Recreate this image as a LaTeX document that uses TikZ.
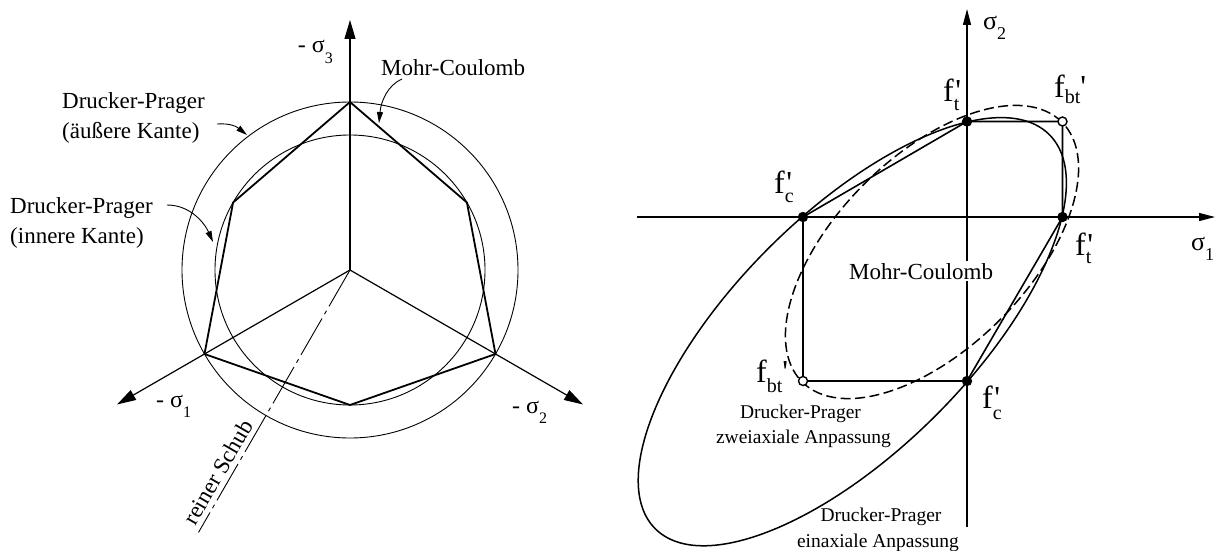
\documentclass[tikz,border=0pt]{standalone}
\usepackage{fontspec}
\newfontfamily\tnr{Liberation Serif}
\usetikzlibrary{arrows.meta}
\newcommand\subtxt[3]{\raisebox{#1}{\fontsize{#2}{#2}\selectfont #3}}
\tikzset{
 thincirc/.style={line width=0.9pt},
 mcline/.style={line width=1.8pt, line join=miter},
 axisL/.style={line width=1.2pt, -{Triangle[length=19pt,width=11pt]}},
 shear/.style={line width=0.9pt, dash pattern=on 42pt off 5pt on 4pt off 5pt},
 callout/.style={line width=0.9pt, -{Triangle[length=11pt,width=6pt]}},
 labL/.style={font=\tnr\fontsize{23}{28}\selectfont, inner sep=0pt},
 sigL/.style={font=\tnr\fontsize{24}{28}\selectfont, inner sep=0pt},
 axisR/.style={line width=1.2pt, -{Triangle[length=16pt,width=8pt]}},
 mcR/.style={line width=1.6pt},
 dpsolid/.style={line width=1.5pt},
 dpdash/.style={line width=1.5pt, dash pattern=on 10pt off 4.5pt},
 odot/.style={line width=1.4pt, fill=white},
 flab/.style={font=\tnr\fontsize{32}{32}\selectfont, inner sep=0pt},
 sigR/.style={font=\tnr\fontsize{26}{26}\selectfont, inner sep=0pt},
 labR/.style={font=\tnr\fontsize{19.5}{24}\selectfont, inner sep=0pt},
 mcRlab/.style={font=\tnr\fontsize{23}{28}\selectfont, inner sep=2pt, fill=white},
}
\begin{document}
\begin{tikzpicture}[x=1pt,y=-1pt]
\useasboundingbox[fill=white] (0,0) rectangle (1216,551);
% ---------------- left diagram ----------------
\coordinate (O) at (350,270);
\draw[thincirc] (O) circle[radius=168pt];
\draw[thincirc] (O) circle[radius=135pt];
\coordinate (V1) at (350,102);
\coordinate (V2) at (466.9,202.5);
\coordinate (V3) at (495.5,354);
\coordinate (V4) at (350,405);
\coordinate (V5) at (204.5,354);
\coordinate (V6) at (233.1,202.5);
\draw[mcline] (V1) -- (V2) -- (V3) -- (V4) -- (V5) -- (V6) -- cycle;
\coordinate (A3) at (350,20);
\coordinate (A1) at (117,404.5);
\coordinate (A2) at (583,404.5);
\draw[axisL] (O) -- (A3);
\draw[axisL] (O) -- (A1);
\draw[axisL] (O) -- (A2);
\coordinate (S) at (198.5,532.4);
\draw[shear] (O) -- (S);
\node[labL, anchor=base, rotate=60] (rs) at (225,476) {reiner Schub};
\node[sigL, anchor=base east] (s3) at (333,53) {- σ\subtxt{-10pt}{16}{3}};
\node[sigL, anchor=base west] (s1) at (156,407) {- σ\subtxt{-10pt}{16}{1}};
\node[sigL, anchor=base west] (s2) at (512,413) {- σ\subtxt{-10pt}{16}{2}};
\node[labL, anchor=base west] (mcl) at (381,75) {Mohr-Coulomb};
\node[labL, anchor=base west] (dpa1) at (62,108) {Drucker-Prager};
\node[labL, anchor=base west] (dpa2) at (62,138) {(äußere Kante)};
\node[labL, anchor=base west] (dpi1) at (10,213) {Drucker-Prager};
\node[labL, anchor=base west] (dpi2) at (10,243) {(innere Kante)};
\coordinate (mcA) at (402,79);
\coordinate (mcB) at (379,123);
\draw[callout] (mcA) .. controls +(-14,6) and +(2,-22) .. (mcB);
\coordinate (dpaA) at (217,124);
\coordinate (dpaB) at (247,135);
\draw[callout] (dpaA) .. controls +(14,-1) and +(-10,-8) .. (dpaB);
\coordinate (dpiA) at (167,205);
\coordinate (dpiB) at (213,242);
\draw[callout] (dpiA) .. controls +(24,0) and +(-8,-18) .. (dpiB);
% ---------------- right diagram ----------------
\coordinate (E1) at (852.3,331.7);
\coordinate (E2) at (932,252);
\draw[dpsolid, rotate around={45:(E1)}] (E1) ellipse [x radius=278.65pt, y radius=118.25pt];
\draw[dpdash, rotate around={45:(E2)}] (E2) ellipse [x radius=183.7pt, y radius=96pt];
\coordinate (C1) at (803,217);
\coordinate (T2) at (967,121.5);
\coordinate (B1) at (1062.5,121.5);
\coordinate (T1) at (1062.5,217);
\coordinate (C2) at (967,381);
\coordinate (B2) at (803,381);
\draw[mcR] (C1) -- (T2) -- (B1) -- (T1) -- (C2) -- (B2) -- cycle;
\coordinate (HL) at (637,217);
\coordinate (HR) at (1215,217);
\coordinate (VB) at (967,527);
\coordinate (VT) at (967,9);
\draw[axisR] (HL) -- (HR);
\draw[axisR] (VB) -- (VT);
\foreach \p in {C1,T2,T1,C2} \fill (\p) circle[radius=5.2pt];
\foreach \p in {B1,B2} \draw[odot] (\p) circle[radius=4.5pt];
\node[sigR, anchor=base west] (sg2) at (983,30) {σ\subtxt{-10pt}{18}{2}};
\node[sigR, anchor=base west] (sg1) at (1191,250) {σ\subtxt{-10pt}{18}{1}};
\node[flab, anchor=base west] (ft2) at (943,102) {f\rlap{\kern1.5pt'}\subtxt{-9pt}{20}{t}};
\node[flab, anchor=base west] (fbt1) at (1054,97) {f\subtxt{-6pt}{20}{bt}'};
\node[flab, anchor=base west] (fc1) at (774,193) {f\rlap{\kern1.5pt'}\subtxt{-9pt}{20}{c}};
\node[flab, anchor=base west] (ft1) at (1075,255) {f\rlap{\kern1.5pt'}\subtxt{-8pt}{20}{t}};
\node[flab, anchor=base west] (fbt2) at (756,382) {f\subtxt{-10pt}{20}{bt}'};
\node[flab, anchor=base west] (fc2) at (982,408) {f\rlap{\kern1.5pt'}\subtxt{-11pt}{20}{c}};
\node[mcRlab, anchor=base west] (mcr) at (847,279) {Mohr-Coulomb};
\node[labR, anchor=base] (dpz1) at (800.5,418) {Drucker-Prager};
\node[labR, anchor=base] (dpz2) at (803.5,443) {zweiaxiale Anpassung};
\node[labR, anchor=base] (dpe1) at (881,521) {Drucker-Prager};
\node[labR, anchor=base] (dpe2) at (878,547) {einaxiale Anpassung};
\end{tikzpicture}
\end{document}
